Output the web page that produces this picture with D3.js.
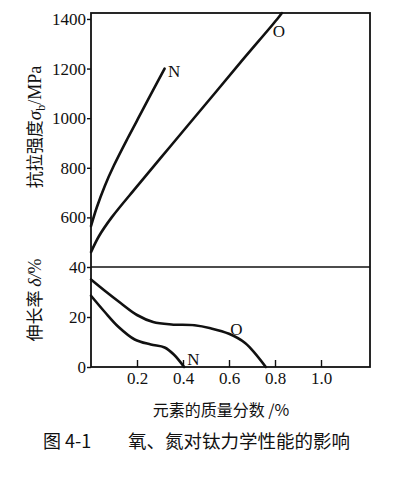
<!DOCTYPE html>
<html>
<head>
<meta charset="utf-8">
<script src="https://cdn.jsdelivr.net/npm/d3@7"></script>
<style>
  body { margin: 0; background: #fff; }
  svg { display: block; }
  .num { font-family: "Liberation Serif", "Times New Roman", "DejaVu Serif", serif; font-size: 17px; fill: #111; }
  .cjk { font-family: "Noto Sans CJK SC", sans-serif; fill: #111; }
</style>
</head>
<body>
<svg id="chart"></svg>
<script>
// strength curves (mass fraction %, MPa)
const nStrengthX = [0, 0.025, 0.06, 0.1, 0.16, 0.22, 0.27, 0.32]
const nStrengthY = [565, 640, 727, 810, 920, 1025, 1113, 1200]
const oStrengthX = [0, 0.035, 0.09, 0.2, 0.35, 0.5, 0.65, 0.81, 0.83]
const oStrengthY = [460, 525, 600, 725, 892, 1058, 1225, 1400, 1424]

// elongation curves (mass fraction %, %)
const nElongX = [0, 0.06, 0.12, 0.19, 0.26, 0.32, 0.36, 0.405]
const nElongY = [28.5, 22, 16, 11, 9, 7.8, 5, 0]
const oElongX = [0, 0.06, 0.13, 0.2, 0.27, 0.35, 0.45, 0.52, 0.6, 0.67, 0.76]
const oElongY = [35, 30.5, 25.5, 20.8, 18, 17, 16.7, 15.5, 13.3, 9.6, 0]

const xTicks = [0.2, 0.4, 0.6, 0.8, 1.0]
const strengthTicks = [600, 800, 1000, 1200, 1400]
const elongTicks = [0, 20, 40]

const W = 399, H = 477
const left = 91, right = 370
const topY = 13, midY = 267, botY = 367
const numFont = '"Liberation Serif", "Times New Roman", "DejaVu Serif", serif'

const svg = d3.select('#chart').attr('width', W).attr('height', H)

const x = d3.scaleLinear().domain([0, 1.213]).range([left, right])
const yS = d3.scaleLinear().domain([400, 1424]).range([midY, topY])
const yE = d3.scaleLinear().domain([0, 40]).range([botY, midY])

// frame
svg.append('rect')
  .attr('x', left).attr('y', topY)
  .attr('width', right - left).attr('height', botY - topY)
  .attr('fill', 'none').attr('stroke', '#111').attr('stroke-width', 1.8)
svg.append('line')
  .attr('x1', left).attr('x2', right)
  .attr('y1', midY).attr('y2', midY)
  .attr('stroke', '#111').attr('stroke-width', 1.5)

function styleAxis(g) {
  g.attr('font-family', null).attr('font-size', null)
  g.select('.domain').remove()
  g.selectAll('.tick line').attr('stroke', '#111').attr('stroke-width', 1.4)
  g.selectAll('.tick text').attr('class', 'num').attr('fill', '#111')
}

svg.append('g')
  .attr('transform', `translate(${left},0)`)
  .call(d3.axisLeft(yS).tickValues(strengthTicks).tickSize(4).tickPadding(1).tickFormat(d3.format('d')))
  .call(styleAxis)

svg.append('g')
  .attr('transform', `translate(${left},0)`)
  .call(d3.axisLeft(yE).tickValues(elongTicks).tickSize(4).tickPadding(1).tickFormat(d3.format('d')))
  .call(styleAxis)

svg.append('g')
  .attr('transform', `translate(0,${botY})`)
  .call(d3.axisBottom(x).tickValues(xTicks).tickSize(-7).tickPadding(5).tickFormat(d3.format('.1f')))
  .call(styleAxis)

// curves
const zip = (xs, ys) => xs.map((v, i) => [v, ys[i]])
const curves = [
  { data: zip(nStrengthX, nStrengthY), y: yS },
  { data: zip(oStrengthX, oStrengthY), y: yS },
  { data: zip(nElongX, nElongY), y: yE },
  { data: zip(oElongX, oElongY), y: yE }
]
for (let c of curves) {
  let line = d3.line()
    .x(d => x(d[0]))
    .y(d => c.y(d[1]))
    .curve(d3.curveCatmullRom.alpha(0.5))
  svg.append('path')
    .datum(c.data)
    .attr('fill', 'none')
    .attr('stroke', '#111')
    .attr('stroke-width', 2.6)
    .attr('stroke-linecap', 'round')
    .attr('d', line)
}

// curve labels
const labels = [
  { t: 'N', x: 0.335, y: yS(1167) },
  { t: 'O', x: 0.79, y: yS(1327) },
  { t: 'O', x: 0.605, y: yE(12.8) },
  { t: 'N', x: 0.418, y: yE(1.0) }
]
svg.selectAll('.lab').data(labels).enter().append('text')
  .attr('class', 'num')
  .attr('x', d => x(d.x)).attr('y', d => d.y)
  .style('font-size', '17px')
  .text(d => d.t)

// axis titles
const t1 = svg.append('text')
  .attr('class', 'cjk')
  .attr('transform', 'translate(41,127) rotate(-90)')
  .attr('text-anchor', 'middle')
  .style('font-size', '17px')
t1.append('tspan').text('抗拉强度')
t1.append('tspan').attr('font-family', numFont).attr('font-style', 'italic').attr('font-size', '19px').text('σ')
t1.append('tspan').attr('font-family', numFont).attr('font-size', '12px').attr('dy', 4).text('b')
t1.append('tspan').attr('font-family', numFont).attr('font-size', '18px').attr('dy', -4).text('/MPa')

const t2 = svg.append('text')
  .attr('class', 'cjk')
  .attr('transform', 'translate(41,300) rotate(-90)')
  .attr('text-anchor', 'middle')
  .style('font-size', '17px')
t2.append('tspan').text('伸长率 ')
t2.append('tspan').attr('font-family', numFont).attr('font-style', 'italic').attr('font-size', '18px').text('δ/')
t2.append('tspan').attr('font-family', numFont).attr('font-size', '18px').text('%')

svg.append('text')
  .attr('class', 'cjk')
  .attr('x', 221).attr('y', 416)
  .attr('text-anchor', 'middle')
  .style('font-size', '16px')
  .text('元素的质量分数 /%')

// caption
svg.append('text')
  .attr('class', 'cjk')
  .attr('x', 43).attr('y', 448)
  .style('font-size', '18px')
  .text('图 4-1')
svg.append('text')
  .attr('class', 'cjk')
  .attr('x', 128).attr('y', 448)
  .style('font-size', '18.5px')
  .text('氧、氮对钛力学性能的影响')
</script>
</body>
</html>
